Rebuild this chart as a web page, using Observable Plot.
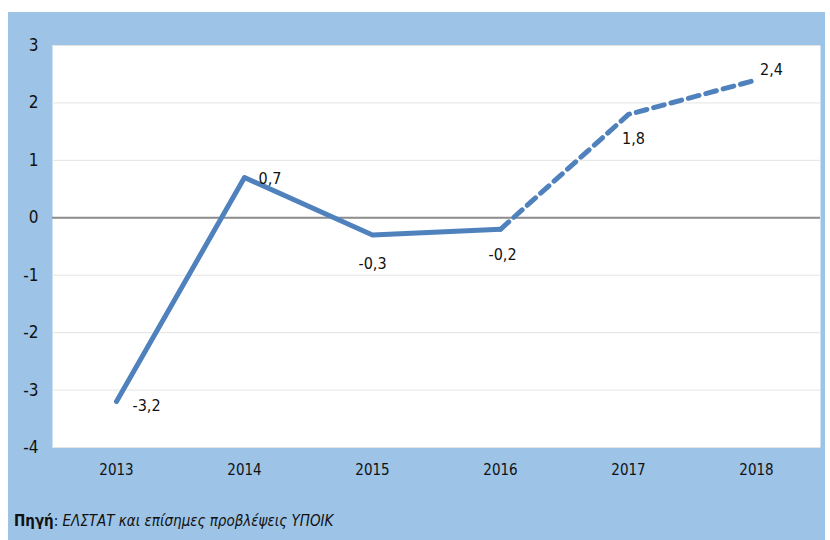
<!DOCTYPE html>
<html>
<head>
<meta charset="utf-8">
<script src="https://cdn.jsdelivr.net/npm/d3@7"></script>
<script src="https://cdn.jsdelivr.net/npm/@observablehq/plot@0.6"></script>
<style>
  body { margin: 0; background: #ffffff; font-family: "Liberation Sans Narrow", "DejaVu Sans Condensed", sans-serif; }
  #wrap { position: absolute; left: 8px; top: 12px; width: 817px; height: 528px; background: #9DC3E6; }
  #source { position: absolute; left: 6px; top: 500px; font-size: 15px; color: #111; }
  #source i { font-style: italic; }
</style>
</head>
<body>
<div id="wrap">
  <div id="chart"></div>
  <div id="source"><b>Πηγή</b>: <i>ΕΛΣΤΑΤ και επίσημες προβλέψεις ΥΠΟΙΚ</i></div>
</div>
<script>
const years = ["2013", "2014", "2015", "2016", "2017", "2018"];
const values = [-3.2, 0.7, -0.3, -0.2, 1.8, 2.4];
const yTicks = [-4, -3, -2, -1, 0, 1, 2, 3];

const data = years.map((year, i) => ({ year, value: values[i], label: String(values[i]).replace(".", ","), i }));
const actual = data.slice(0, 4);
const forecast = data.slice(3);

const blue = "#4F81BD";
const font = "Liberation Sans Narrow, DejaVu Sans Condensed, sans-serif";

const chart = Plot.plot({
  width: 817,
  height: 490,
  marginLeft: 44,
  marginRight: 5,
  marginTop: 33,
  marginBottom: 55,
  style: { background: "transparent", fontFamily: font, fontSize: "15px", color: "#111" },
  x: { type: "point", domain: years, padding: 0.5, label: null },
  y: { domain: [-4, 3], ticks: yTicks, label: null },
  marks: [
    Plot.frame({ fill: "white", stroke: null }),
    Plot.gridY(yTicks, { stroke: "#e4e4e4", strokeOpacity: 1, strokeWidth: 1 }),
    Plot.ruleY([0], { stroke: "#8c8c8c", strokeWidth: 2 }),
    Plot.axisY(yTicks, { tickSize: 0, tickPadding: 14, fontSize: 17, textAnchor: "end", tickFormat: d => String(d) }),
    Plot.axisX({ tickSize: 0, tickPadding: 17, fontSize: 15 }),
    Plot.line(actual, { x: "year", y: "value", stroke: blue, strokeWidth: 5 }),
    Plot.line(forecast, { x: "year", y: "value", stroke: blue, strokeWidth: 5, strokeDasharray: "11,7" }),
    Plot.text(data.filter(d => d.i === 0), { x: "year", y: "value", text: "label", textAnchor: "start", dx: 16, dy: 4, fontSize: 16 }),
    Plot.text(data.filter(d => d.i === 1), { x: "year", y: "value", text: "label", textAnchor: "start", dx: 14, dy: 1, fontSize: 16 }),
    Plot.text(data.filter(d => d.i === 2), { x: "year", y: "value", text: "label", dx: 0, dy: 29, fontSize: 16 }),
    Plot.text(data.filter(d => d.i === 3), { x: "year", y: "value", text: "label", dx: 2, dy: 26, fontSize: 16 }),
    Plot.text(data.filter(d => d.i === 4), { x: "year", y: "value", text: "label", dx: 5, dy: 24, fontSize: 16 }),
    Plot.text(data.filter(d => d.i === 5), { x: "year", y: "value", text: "label", dx: 15, dy: -10, fontSize: 16 })
  ]
});
document.getElementById("chart").appendChild(chart);
</script>
</body>
</html>
